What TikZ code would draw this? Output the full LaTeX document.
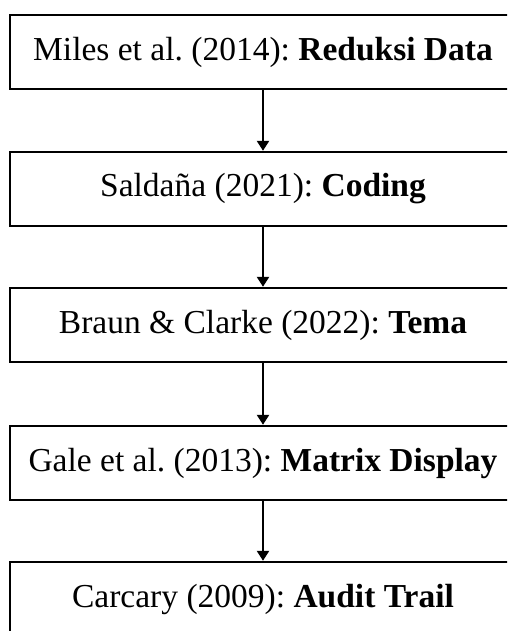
\documentclass[tikz,border=0pt]{standalone}
\usepackage{fontspec}
\setmainfont{Liberation Serif}
\usetikzlibrary{arrows.meta}
\begin{document}
\frenchspacing
\begin{tikzpicture}[x=1pt,y=1pt,
  stagebox/.style={draw=black,line width=2.4pt,fill=white,minimum width=506pt,minimum height=74pt,inner sep=0pt,font=\fontsize{33.5}{38}\selectfont},
  flowarrow/.style={line width=2.4pt,-{Triangle[width=12pt,length=10pt]}}]
\useasboundingbox (0,0) rectangle (507,631);
\clip (0,0) rectangle (507,631);
\fill[white] (0,0) rectangle (507,631);
\node[stagebox] (b1) at (263,579) {Miles et al. (2014): \textbf{Reduksi Data}};
\node[stagebox] (b2) at (263,442) {Saldaña (2021): \textbf{Coding}};
\node[stagebox] (b3) at (263,306) {Braun \& Clarke (2022): \textbf{Tema}};
\node[stagebox] (b4) at (263,168) {Gale et al. (2013): \textbf{Matrix Display}};
\node[stagebox] (b5) at (263,32) {Carcary (2009): \textbf{Audit Trail}};
\draw[flowarrow] (b1) -- (b2);
\draw[flowarrow] (b2) -- (b3);
\draw[flowarrow] (b3) -- (b4);
\draw[flowarrow] (b4) -- (b5);
\end{tikzpicture}
\end{document}
